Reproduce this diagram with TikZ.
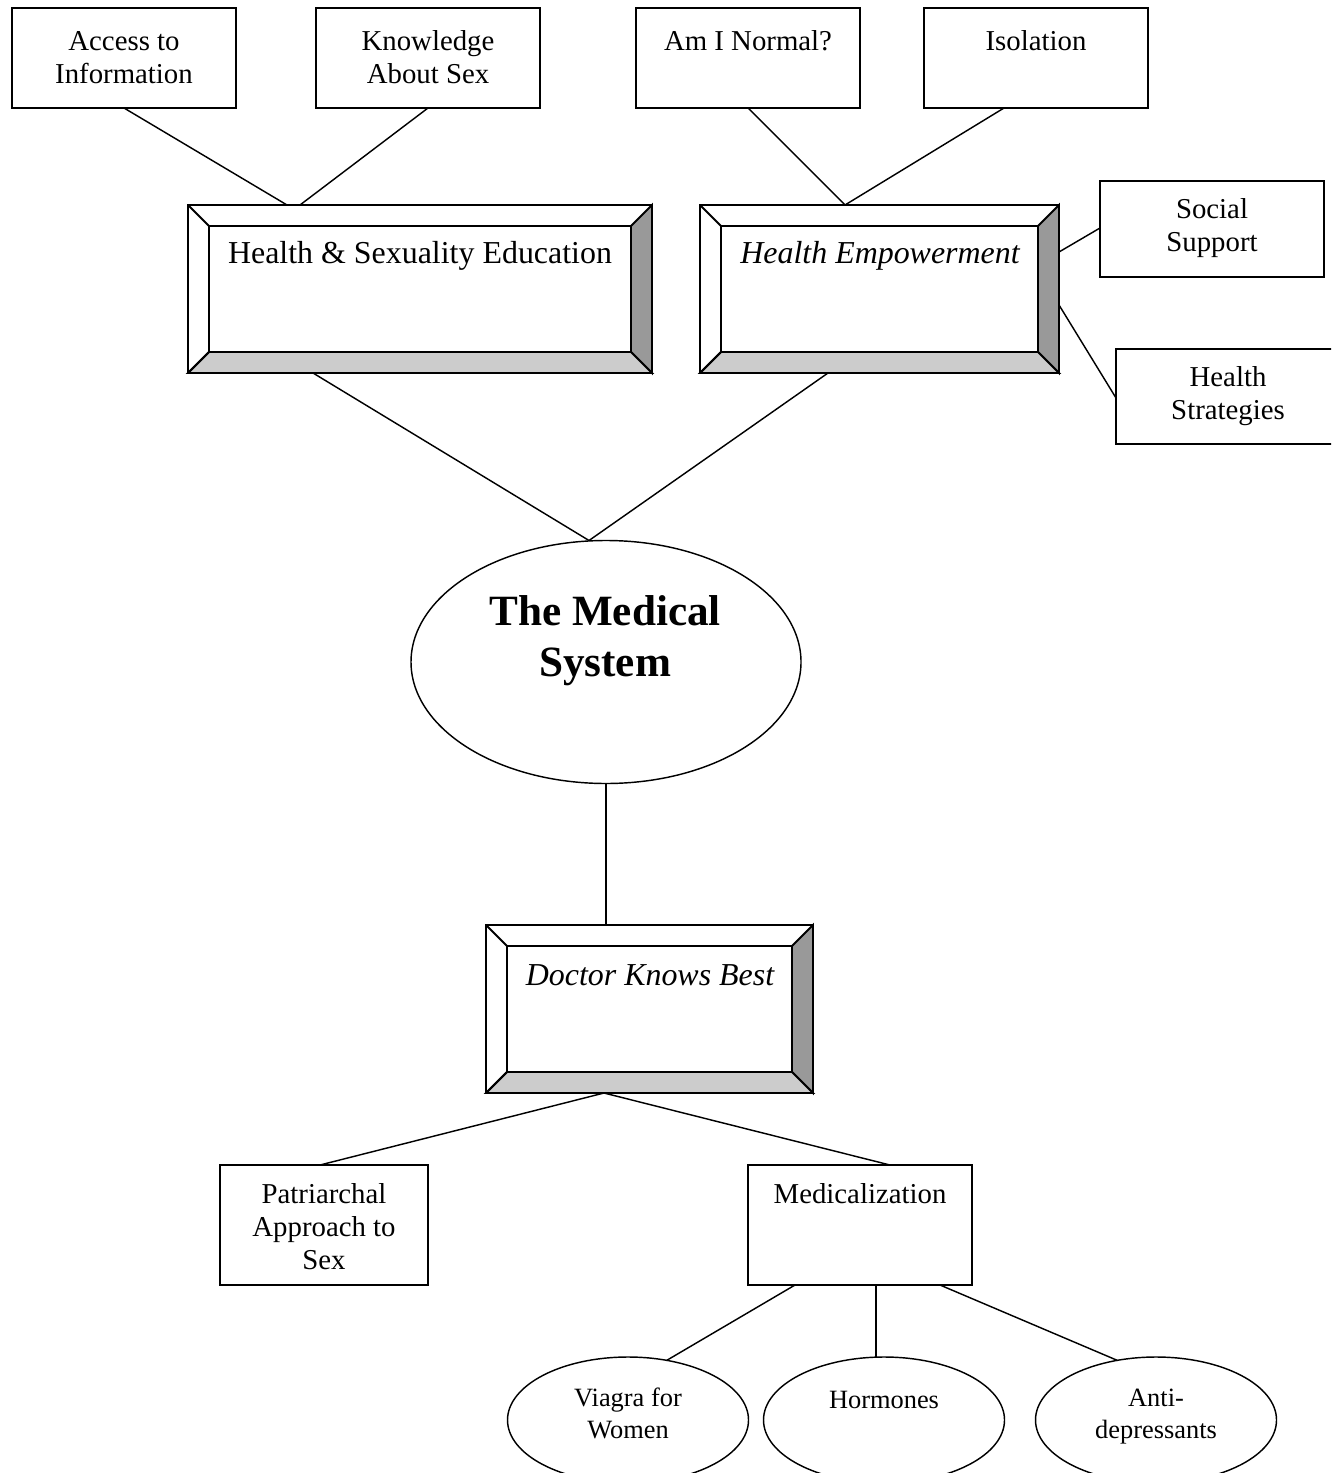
\documentclass[tikz,border=0pt]{standalone}
\usepackage{fontspec}
\setmainfont{Liberation Serif}
\usetikzlibrary{calc,shapes.geometric}
\definecolor{bevdark}{HTML}{999999}
\definecolor{bevlight}{HTML}{CCCCCC}
\newcommand\mkbox[6]{%
  \node[#6, minimum width={(#4-#2)*0.41667pt}, minimum height={(#5-#3)*0.41667pt}] (#1) at ({(#2+#4)/2},{(#3+#5)/2}) {};}
\newcommand\bevelit[1]{%
  \coordinate (#1-inw) at ($(#1.north west)+(21,21)$);
  \coordinate (#1-ine) at ($(#1.north east)+(-21,21)$);
  \coordinate (#1-ise) at ($(#1.south east)+(-21,-21)$);
  \coordinate (#1-isw) at ($(#1.south west)+(21,-21)$);
  \filldraw[fill=bevdark,boxline] (#1.north east) -- (#1.south east) -- (#1-ise) -- (#1-ine) -- cycle;
  \filldraw[fill=bevlight,boxline] (#1.south west) -- (#1.south east) -- (#1-ise) -- (#1-isw) -- cycle;
  \draw[boxline] (#1.north west) -- (#1-inw) -- (#1-isw) -- (#1.south west);
  \draw[boxline] (#1-inw) -- (#1-ine);
  \draw[boxline] (#1.north west) rectangle (#1.south east);}
\begin{document}
\begin{tikzpicture}[x=0.41667pt,y=-0.41667pt,
  boxline/.style={line width=0.8pt,line join=miter},
  plainbox/.style={draw,boxline,fill=white,rectangle,inner sep=0pt,outer sep=0pt},
  bevbox/.style={draw,boxline,fill=white,rectangle,inner sep=0pt,outer sep=0pt},
  oval/.style={draw,line width=0.6pt,ellipse,inner sep=0pt,outer sep=0pt},
  conn/.style={line width=0.6pt},
  txt/.style={font=\fontsize{12}{13.75}\selectfont,align=center,inner sep=0pt,anchor=base},
  bevtxt/.style={font=\fontsize{13.3}{15.3}\selectfont,align=center,inner sep=0pt,anchor=base},
  smalltxt/.style={font=\fontsize{11}{13.3}\selectfont,align=center,inner sep=0pt,anchor=base},
  bigtxt/.style={font=\fontsize{18}{21.2}\selectfont\bfseries,align=center,inner sep=0pt,anchor=base}]
\useasboundingbox (0,0) rectangle (1331,1473);
\clip (0,0) rectangle (1331,1473);

% top boxes
\mkbox{acc}{12}{8}{236}{108}{plainbox}
\mkbox{kno}{316}{8}{540}{108}{plainbox}
\mkbox{ami}{636}{8}{860}{108}{plainbox}
\mkbox{iso}{924}{8}{1148}{108}{plainbox}
\node[txt] (tacc) at (124,84) {Access to\\Information};
\node[txt] (tkno) at (428,84) {Knowledge\\About Sex};
\node[txt] (tami) at (748,51) {Am I Normal?};
\node[txt] (tiso) at (1036,51) {Isolation};

% bevel boxes
\mkbox{hse}{188}{205}{652}{373}{bevbox}
\bevelit{hse}
\mkbox{he}{700}{205}{1059}{373}{bevbox}
\bevelit{he}
\node[bevtxt] (thse) at (420,264) {Health \& Sexuality Education};
\node[bevtxt] (the) at (880,264) {\itshape Health Empowerment};

% side boxes
\mkbox{soc}{1100}{181}{1324}{277}{plainbox}
\mkbox{hs}{1116}{349}{1345}{444}{plainbox}
\node[txt] (tsoc) at (1212,252) {Social\\Support};
\node[txt] (ths) at (1228,420) {Health\\Strategies};

% medical system
\node[oval, minimum width={390*0.41667pt}, minimum height={243*0.41667pt}] (ms) at (606,662) {};
\node[bigtxt] (tms) at (605,676) {The Medical\\System};

% doctor knows best
\mkbox{dkb}{486}{925}{813}{1093}{bevbox}
\bevelit{dkb}
\node[bevtxt] (tdkb) at (650,985) {\itshape Doctor Knows Best};

% lower boxes
\mkbox{pat}{220}{1165}{428}{1285}{plainbox}
\mkbox{med}{748}{1165}{972}{1285}{plainbox}
\node[txt] (tpat) at (324,1269) {Patriarchal\\Approach to\\Sex};
\node[txt] (tmed) at (860,1203) {Medicalization};

% bottom ellipses
\node[oval, minimum width={241*0.41667pt}, minimum height={126*0.41667pt}] (via) at (628,1420) {};
\node[oval, minimum width={241*0.41667pt}, minimum height={126*0.41667pt}] (hor) at (884,1420) {};
\node[oval, minimum width={241*0.41667pt}, minimum height={126*0.41667pt}] (ant) at (1156,1420) {};
\node[smalltxt] (tvia) at (628,1438) {Viagra for\\Women};
\node[smalltxt] (thor) at (884,1408) {Hormones};
\node[smalltxt] (tant) at (1156,1438) {Anti-\\depressants};

% connectors
\draw[conn] (acc.south) -- ($(hse.north west)+(99,0)$);
\draw[conn] (kno.south) -- ($(hse.north west)+(112,0)$);
\draw[conn] (ami.south) -- ($(he.north west)+(145,0)$);
\draw[conn] ($(iso.south)+(-32,0)$) -- ($(he.north west)+(145,0)$);
\draw[conn] ($(he.north east)+(0,47)$) -- ($(soc.north west)+(0,47)$);
\draw[conn] ($(he.north east)+(0,100)$) -- ($(hs.north west)+(0,49)$);
\draw[conn] ($(hse.south west)+(125,0)$) -- ($(ms.north)+(-17,0)$);
\draw[conn] ($(he.south west)+(128,0)$) -- ($(ms.north)+(-17,0)$);
\draw[conn] (ms.south) -- (ms.south |- dkb.north);
\draw[conn] ($(dkb.south west)+(118,0)$) -- ($(pat.north)+(-4,0)$);
\draw[conn] ($(dkb.south west)+(118,0)$) -- ($(med.north)+(30,0)$);
\draw[conn] ($(med.south west)+(47,0)$) -- (via.57);
\coordinate (medh) at ($(med.south west)+(128,0)$);
\draw[conn] (medh) -- (medh |- hor.north);
\draw[conn] ($(med.south west)+(192,0)$) -- (ant.123);
\end{tikzpicture}
\end{document}
